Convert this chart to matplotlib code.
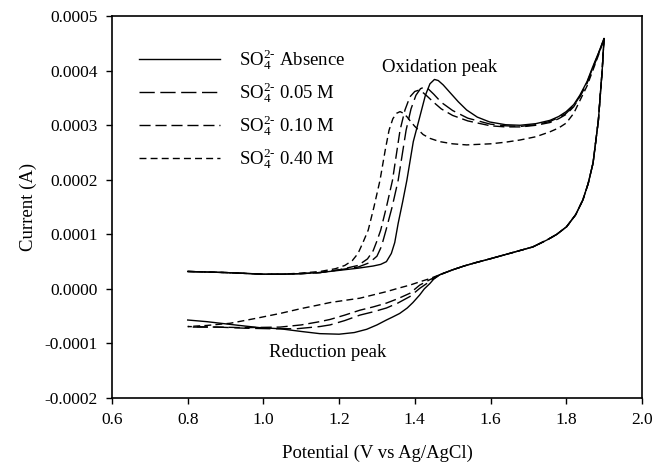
import numpy as np
import matplotlib
matplotlib.use("Agg")
import matplotlib.pyplot as plt

plt.rcParams['font.family'] = ['Liberation Serif', 'DejaVu Serif']
plt.rcParams['mathtext.fontset'] = 'custom'
plt.rcParams['mathtext.rm'] = 'Liberation Serif'
plt.rcParams['mathtext.it'] = 'Liberation Serif'

# forward scan (anodic), potential in V, current in 1e-4 A
fwd_abs_v = [0.80, 0.90, 1.00, 1.05, 1.10, 1.15, 1.20, 1.25, 1.29, 1.31, 1.325, 1.338, 1.347, 1.356, 1.368, 1.379,
             1.396, 1.413, 1.428, 1.440, 1.452, 1.462, 1.475, 1.493, 1.515, 1.537, 1.565, 1.598, 1.64, 1.678,
             1.72, 1.757, 1.78, 1.80, 1.82, 1.836, 1.855, 1.87, 1.885, 1.90]
fwd_abs_i = [0.32, 0.30, 0.27, 0.27, 0.28, 0.30, 0.34, 0.38, 0.42, 0.45, 0.50, 0.65, 0.85, 1.20, 1.60, 1.99,
             2.70, 3.15, 3.55, 3.76, 3.84, 3.82, 3.74, 3.60, 3.43, 3.28, 3.15, 3.06, 3.01, 3.00,
             3.03, 3.09, 3.16, 3.25, 3.38, 3.55, 3.80, 4.07, 4.32, 4.59]

fwd_005_v = [0.80, 0.90, 1.00, 1.05, 1.10, 1.15, 1.20, 1.25, 1.28, 1.30, 1.312, 1.324, 1.34, 1.356, 1.377, 1.39,
             1.403, 1.415, 1.425, 1.435, 1.45, 1.47, 1.50, 1.54, 1.60, 1.64, 1.68, 1.72, 1.757, 1.78, 1.80,
             1.82, 1.836, 1.855, 1.87, 1.885, 1.90]
fwd_005_i = [0.32, 0.30, 0.27, 0.27, 0.28, 0.30, 0.35, 0.40, 0.48, 0.60, 0.78, 1.08, 1.50, 1.99, 2.91, 3.30,
             3.55, 3.67, 3.70, 3.67, 3.57, 3.42, 3.27, 3.13, 3.02, 2.99, 2.98, 3.01, 3.07, 3.14, 3.22,
             3.36, 3.53, 3.78, 4.05, 4.31, 4.59]

fwd_010_v = [0.80, 0.90, 1.00, 1.05, 1.10, 1.15, 1.20, 1.25, 1.275, 1.29, 1.30, 1.31, 1.325, 1.341, 1.361, 1.374,
             1.387, 1.40, 1.409, 1.418, 1.43, 1.45, 1.47, 1.50, 1.54, 1.60, 1.64, 1.68, 1.72, 1.757, 1.78,
             1.80, 1.82, 1.836, 1.855, 1.87, 1.885, 1.90]
fwd_010_i = [0.32, 0.30, 0.27, 0.27, 0.28, 0.30, 0.35, 0.43, 0.55, 0.70, 0.88, 1.08, 1.50, 1.99, 2.91, 3.28,
             3.52, 3.62, 3.64, 3.62, 3.55, 3.42, 3.30, 3.18, 3.08, 2.99, 2.97, 2.97, 3.00, 3.05, 3.12,
             3.20, 3.34, 3.52, 3.77, 4.03, 4.30, 4.59]

fwd_040_v = [0.80, 0.90, 1.00, 1.05, 1.10, 1.15, 1.19, 1.215, 1.235, 1.25, 1.263, 1.277, 1.292, 1.308, 1.322,
             1.332, 1.342, 1.352, 1.361, 1.37, 1.38, 1.39, 1.40, 1.422, 1.44, 1.466, 1.50, 1.537, 1.60, 1.64,
             1.678, 1.72, 1.757, 1.78, 1.80, 1.82, 1.836, 1.855, 1.87, 1.885, 1.90]
fwd_040_i = [0.32, 0.30, 0.27, 0.27, 0.29, 0.32, 0.37, 0.43, 0.52, 0.65, 0.85, 1.08, 1.50, 1.99, 2.55,
             2.91, 3.12, 3.22, 3.25, 3.22, 3.15, 3.06, 2.98, 2.83, 2.76, 2.70, 2.66, 2.64, 2.66, 2.69,
             2.73, 2.79, 2.88, 2.95, 3.04, 3.22, 3.45, 3.72, 4.00, 4.28, 4.59]

# reverse scan (cathodic); all four share the branch above 1.47 V
rev_top_v = [1.90, 1.895, 1.89, 1.885, 1.878, 1.871, 1.858, 1.844, 1.825, 1.801, 1.775, 1.75, 1.712, 1.65,
             1.598, 1.56, 1.53, 1.50, 1.466]
rev_top_i = [4.59, 4.00, 3.55, 3.09, 2.70, 2.31, 1.93, 1.63, 1.36, 1.14, 1.00, 0.90, 0.77, 0.65,
             0.55, 0.48, 0.42, 0.35, 0.26]

rev_abs_v = [1.45, 1.44, 1.425, 1.413, 1.395, 1.38, 1.36, 1.34, 1.325, 1.30, 1.273, 1.24, 1.20, 1.149, 1.10,
             1.044, 0.99, 0.95, 0.912, 0.85, 0.80]
rev_abs_i = [0.18, 0.10, 0.00, -0.11, -0.25, -0.35, -0.45, -0.52, -0.57, -0.66, -0.74, -0.80, -0.83, -0.82, -0.78,
             -0.73, -0.71, -0.68, -0.65, -0.60, -0.57]

rev_005_v = [1.44, 1.413, 1.387, 1.355, 1.325, 1.29, 1.255, 1.215, 1.176, 1.149, 1.088, 1.02, 0.95, 0.88, 0.80]
rev_005_i = [0.14, 0.01, -0.14, -0.26, -0.35, -0.42, -0.48, -0.58, -0.66, -0.69, -0.73, -0.73, -0.72, -0.70, -0.70]

rev_010_v = [1.44, 1.413, 1.387, 1.355, 1.325, 1.29, 1.255, 1.215, 1.176, 1.149, 1.10, 1.044, 0.95, 0.88, 0.80]
rev_010_i = [0.17, 0.07, -0.08, -0.18, -0.26, -0.33, -0.39, -0.48, -0.56, -0.60, -0.66, -0.70, -0.71, -0.70, -0.69]

rev_040_v = [1.44, 1.413, 1.387, 1.355, 1.325, 1.29, 1.255, 1.215, 1.176, 1.149, 1.10, 1.044, 0.98, 0.912,
             0.85, 0.80]
rev_040_i = [0.19, 0.13, 0.07, 0.01, -0.05, -0.11, -0.17, -0.21, -0.25, -0.29, -0.36, -0.45, -0.54, -0.63,
             -0.67, -0.69]

labels = [r'SO$_4^{2\text{-}}$ Absence', r'SO$_4^{2\text{-}}$ 0.05 M',
          r'SO$_4^{2\text{-}}$ 0.10 M', r'SO$_4^{2\text{-}}$ 0.40 M']
styles = ['-', (0, (11, 4)), (0, (8, 3.5)), (0, (5, 3))]

series = [(fwd_abs_v, fwd_abs_i, rev_abs_v, rev_abs_i),
          (fwd_005_v, fwd_005_i, rev_005_v, rev_005_i),
          (fwd_010_v, fwd_010_i, rev_010_v, rev_010_i),
          (fwd_040_v, fwd_040_i, rev_040_v, rev_040_i)]

fig = plt.figure(figsize=(6.55, 4.62), dpi=100)
ax = fig.add_axes([0.171, 0.1385, 0.809, 0.8265])

for (fv, fi, rv, ri), lab, ls in zip(series, labels, styles):
    v = np.array(fv + rev_top_v[1:] + rv)
    i = np.array(fi + rev_top_i[1:] + ri) * 1e-4
    ax.plot(v, i, color='black', linestyle=ls, linewidth=1.0, label=lab)

xt = np.arange(0.6, 2.01, 0.2)
yt = np.arange(-0.0002, 0.00051, 0.0001)
ax.set_xlim(0.6, 2.0)
ax.set_ylim(-0.0002, 0.0005)
ax.set_xticks(xt)
ax.set_xticklabels(['%.1f' % t for t in xt])
ax.set_yticks(yt)
ax.set_yticklabels(['%.4f' % t if abs(t) > 1e-9 else '0.0000' for t in yt])
ax.tick_params(direction='out', length=4, width=1, labelsize=12.5, pad=6, top=False, right=False)
for s in ax.spines.values():
    s.set_linewidth(1.2)

ax.set_xlabel('Potential (V vs Ag/AgCl)', fontsize=13.5, labelpad=12)
ax.set_ylabel('Current (A)', fontsize=13.5, labelpad=6)

ax.text(1.466, 0.000405, 'Oxidation peak', fontsize=13.5, ha='center', va='center')
ax.text(1.17, -0.000117, 'Reduction peak', fontsize=13.5, ha='center', va='center')

ax.legend(loc='upper left', bbox_to_anchor=(0.02, 0.962), frameon=False, fontsize=13.5,
          handlelength=4.3, labelspacing=0.45, handletextpad=1.0)

fig.savefig('out.png', dpi=100)
